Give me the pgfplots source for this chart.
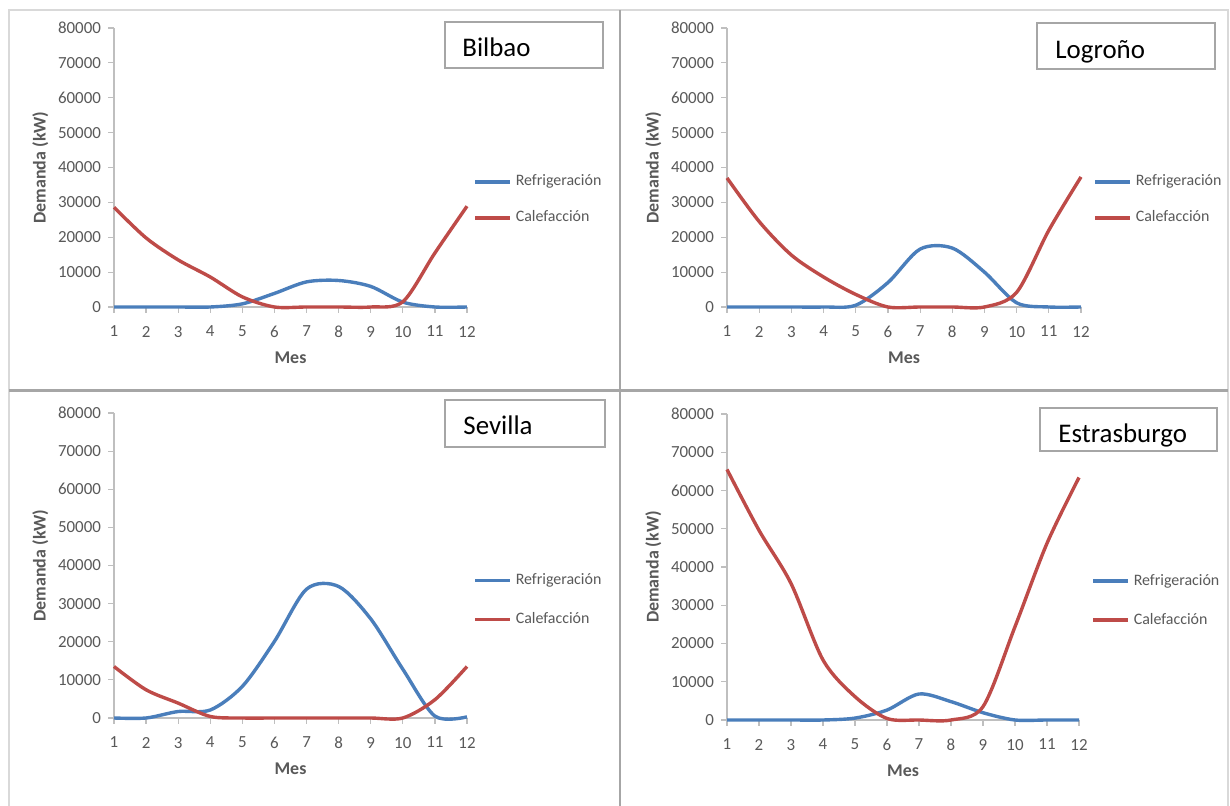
\documentclass[border=0pt]{standalone}
\usepackage{fontspec}
\setmainfont{Carlito}
\usepackage{pgfplots}
\pgfplotsset{compat=1.18}
\definecolor{cblue}{RGB}{74,126,187}
\definecolor{cred}{RGB}{190,75,72}
\definecolor{ctext}{RGB}{89,89,89}
\definecolor{caxis}{RGB}{191,191,191}
\definecolor{cframe}{RGB}{166,166,166}
\definecolor{clight}{RGB}{217,217,217}

\pgfplotstableread{
m R C
1 0 28600
2 0 19800
3 0 13500
4 0 8600
5 900 2900
6 3900 0
7 7200 0
8 7600 0
9 5900 0
10 1400 1500
11 0 15500
12 0 28900
}\bilbao
\pgfplotstableread{
m R C
1 0 37000
2 0 24500
3 0 14900
4 0 8600
5 500 3600
6 7000 0
7 16600 0
8 16900 0
9 10000 0
10 1200 4200
11 0 22000
12 0 37300
}\logrono
\pgfplotstableread{
m R C
1 0 13500
2 0 7400
3 1700 3900
4 2100 400
5 8300 0
6 20100 0
7 33800 0
8 34500 0
9 26000 0
10 12800 0
11 500 4800
12 300 13500
}\sevilla
\pgfplotstableread{
m R C
1 0 65500
2 0 49600
3 0 35700
4 0 15700
5 500 6100
6 2600 400
7 6800 0
8 4800 0
9 1900 3500
10 0 24400
11 0 46200
12 0 63400
}\estras

\pgfplotsset{
  panel/.style={
    scale only axis,
    anchor=origin,
    xmin=1, xmax=12, ymin=0, ymax=80000,
    clip=false,
    axis x line=bottom, axis y line=left,
    axis line style={draw=caxis, line width=0.6bp, -},
    xtick={1,...,12},
    ytick={0,10000,...,80000},
    tick align=outside,
    major tick length=3bp,
    tick style={draw=caxis, line width=0.6bp},
    scaled y ticks=false,
    /pgf/number format/assume math mode=true,
    yticklabel style={/pgf/number format/fixed, /pgf/number format/1000 sep={}},
    xticklabel style={yshift=-3bp},
    ticklabel style={font=\fontsize{8.5}{10}\selectfont, text=ctext},
    xlabel={Mes}, ylabel={Demanda (kW)},
    ylabel shift={-2bp},
    label style={font=\bfseries\fontsize{9}{10}\selectfont, text=ctext},
    legend cell align=left,
    legend image code/.code={\draw[##1] (0bp,0bp) -- (17.5bp,0bp);},
    legend style={draw=none, fill=none, anchor=west, inner sep=0pt,
      font=\fontsize{8}{9}\selectfont, text=ctext, row sep=7bp},
  },
  rline/.style={cblue, line width=1.7bp, smooth, tension=0.5, no markers},
  cline/.style={cred, line width=1.7bp, smooth, tension=0.5, no markers},
}

\begin{document}
\begin{tikzpicture}
\useasboundingbox (0,0) rectangle (615bp,403bp);
\fill[white] (0,0) rectangle (615bp,403bp);
% frame
\draw[clight, line width=0.75bp] (4.5bp,0) -- (4.5bp,398bp) -- (614bp,398bp) -- (614bp,0);
\draw[cframe, line width=1.25bp] (310bp,0) -- (310bp,398bp);
\draw[cframe, line width=1.25bp] (4.5bp,207.75bp) -- (614bp,207.75bp);

% Bilbao
\begin{axis}[panel, at={(57bp,249.5bp)}, width=176.5bp, height=139.5bp,
  legend style={at={(1.017,0.384)}}]
\addplot[rline] table[x=m,y=R] {\bilbao};
\addlegendentry{Refrigeración}
\addplot[cline] table[x=m,y=C] {\bilbao};
\addlegendentry{Calefacción}
\end{axis}

% Logrono
\begin{axis}[panel, at={(363.5bp,249.5bp)}, width=177bp, height=139.5bp,
  legend style={at={(1.034,0.384)}}]
\addplot[rline] table[x=m,y=R] {\logrono};
\addlegendentry{Refrigeración}
\addplot[cline] table[x=m,y=C] {\logrono};
\addlegendentry{Calefacción}
\end{axis}

% Sevilla
\begin{axis}[panel, at={(57bp,44bp)}, width=176.5bp, height=152.5bp,
  legend style={at={(1.017,0.387)}, row sep=8.5bp}]
\addplot[rline] table[x=m,y=R] {\sevilla};
\addlegendentry{Refrigeración}
\addplot[cline] table[x=m,y=C] {\sevilla};
\addlegendentry{Calefacción}
\end{axis}

% Estrasburgo
\begin{axis}[panel, at={(363.5bp,43bp)}, width=176bp, height=153bp,
  legend style={at={(1.034,0.39)}, row sep=8.5bp}]
\addplot[rline] table[x=m,y=R] {\estras};
\addlegendentry{Refrigeración}
\addplot[cline] table[x=m,y=C] {\estras};
\addlegendentry{Calefacción}
\end{axis}

% title boxes
\draw[cframe, line width=0.7bp, fill=white] (222.5bp,369bp) rectangle (301.5bp,392bp);
\node[anchor=mid west, inner sep=0pt, font=\fontsize{13.5}{15}\selectfont] at (231bp,377bp) {Bilbao};
\draw[cframe, line width=0.7bp, fill=white] (518.5bp,368.5bp) rectangle (607.5bp,391.5bp);
\node[anchor=mid west, inner sep=0pt, font=\fontsize{13.5}{15}\selectfont] at (527.5bp,376bp) {Logroño};
\draw[cframe, line width=0.7bp, fill=white] (222.5bp,179.5bp) rectangle (302.5bp,203bp);
\node[anchor=mid west, inner sep=0pt, font=\fontsize{13.5}{15}\selectfont] at (231.5bp,188bp) {Sevilla};
\draw[cframe, line width=0.7bp, fill=white] (520bp,177.5bp) rectangle (608.5bp,199bp);
\node[anchor=mid west, inner sep=0pt, font=\fontsize{13.5}{15}\selectfont] at (529bp,184bp) {Estrasburgo};
\end{tikzpicture}
\end{document}
